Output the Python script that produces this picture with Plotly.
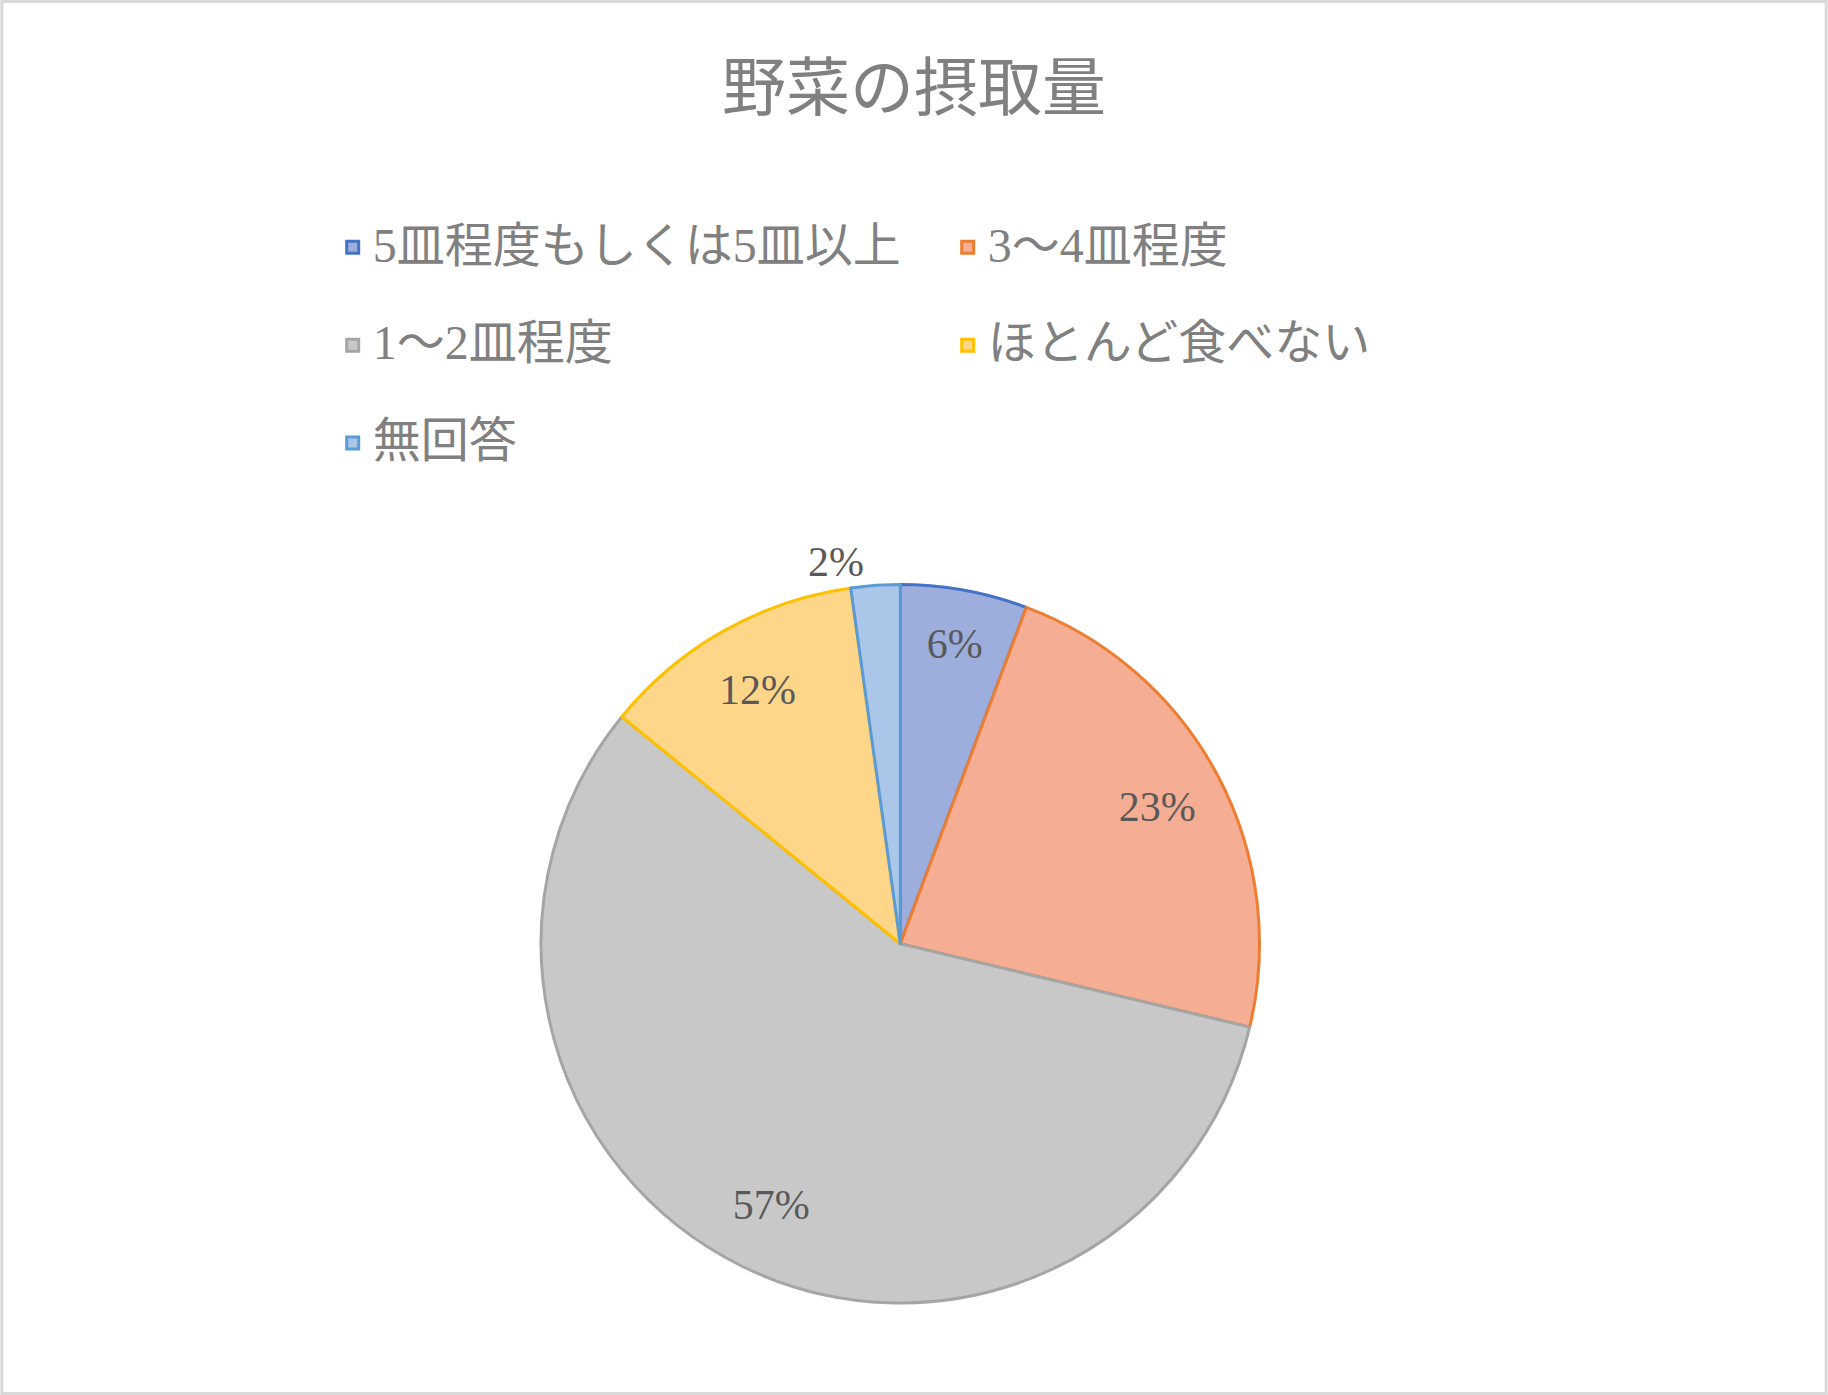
import plotly.graph_objects as go

# 野菜の摂取量 (share of respondents, %)
labels = ['5皿程度もしくは5皿以上', '3～4皿程度', '1～2皿程度', 'ほとんど食べない', '無回答']
values = [5.7, 23.0, 57.1, 11.9, 2.2]

fill_colors = ['#9DAEDC', '#F5AE93', '#C8C8C8', '#FDD68A', '#AAC6E8']
line_colors = ['#4472C4', '#ED7D31', '#A5A5A5', '#FFC000', '#5B9BD5']

W, H = 1828, 1395
font_fam = 'Liberation Serif, Noto Sans CJK JP'
pie_domain = dict(x=[0.296, 0.689], y=[0.066, 0.581])

# legend text bigger than the legend base size, plus an empty line for row spacing
legend_labels = ['<span style="font-size:48px">%s</span><br> ' % s for s in labels]

fig = go.Figure()

# the slices
fig.add_trace(go.Pie(
    labels=legend_labels,
    values=values,
    sort=False,
    direction='clockwise',
    rotation=0,
    marker=dict(colors=fill_colors, line=dict(color=line_colors, width=3)),
    textinfo='none',
    domain=pie_domain,
    hovertext=labels,
    hoverinfo='text+percent',
))

# transparent ring on top, only carries the percent labels near the rim
fig.add_trace(go.Pie(
    labels=legend_labels,
    values=values,
    sort=False,
    direction='clockwise',
    rotation=0,
    hole=0.62,
    marker=dict(colors=['rgba(0,0,0,0)'] * len(values), line=dict(width=0)),
    texttemplate='%{percent:.0%}',
    textposition=['inside', 'inside', 'inside', 'inside', 'outside'],
    insidetextorientation='horizontal',
    textfont=dict(family=font_fam, size=42, color='#595959'),
    domain=pie_domain,
    showlegend=False,
    hoverinfo='skip',
))

fig.update_layout(
    width=W, height=H,
    margin=dict(l=0, r=0, t=0, b=0),
    paper_bgcolor='white',
    title=dict(text='野菜の摂取量', x=0.5, xanchor='center', y=0.937, yanchor='middle',
               font=dict(family=font_fam, size=64, color='#808080')),
    legend=dict(orientation='h', x=0.182, xanchor='left', y=0.8444, yanchor='top',
                entrywidth=570, entrywidthmode='pixels', valign='top',
                font=dict(family=font_fam, size=36.5, color='#808080')),
    shapes=[dict(type='rect', xref='paper', yref='paper', x0=0.001, x1=0.999, y0=0.001, y1=0.999,
                 line=dict(color='#D9D9D9', width=3))],
)

fig.write_html('out.html', config={'displayModeBar': False},
               post_script="document.body.style.margin='0px';")
